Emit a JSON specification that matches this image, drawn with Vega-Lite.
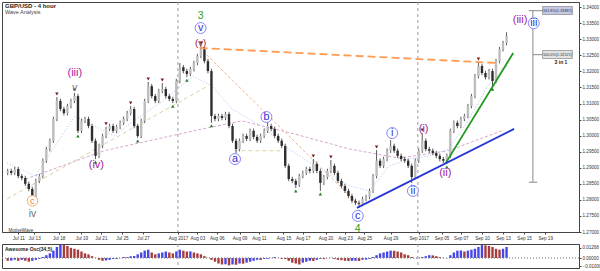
{
"$schema": "https://vega.github.io/schema/vega-lite/v6.json",
"padding": {"top": 1, "left": 1, "right": 0, "bottom": 0},
"background": "white",
"spacing": 2,
"resolve": {"scale": {"color": "independent", "size": "independent"}},
"config": {"view": {"stroke": "#444", "strokeWidth": 1}, "font": "Liberation Sans",
  "axis": {"grid": false, "title": null, "labelFontSize": 4.6, "tickSize": 2, "labelPadding": 1, "labelColor": "#333", "domainColor": "#444", "tickColor": "#444", "labelOverlap": false, "tickCount": 60}},
"datasets": {
"candles": [
{"b":-6,"o":1.2884,"h":1.2897,"l":1.2877,"c":1.2890},
{"b":-4,"o":1.2890,"h":1.2897,"l":1.2877,"c":1.2884},
{"b":-2,"o":1.2884,"h":1.2903,"l":1.2877,"c":1.2896},
{"b":0,"o":1.2896,"h":1.2903,"l":1.2867,"c":1.2874},
{"b":2,"o":1.2874,"h":1.2881,"l":1.2861,"c":1.2868},
{"b":4,"o":1.2868,"h":1.2875,"l":1.2843,"c":1.2850},
{"b":6,"o":1.2850,"h":1.2857,"l":1.2827,"c":1.2834},
{"b":8,"o":1.2834,"h":1.2841,"l":1.2803,"c":1.2809},
{"b":10,"o":1.2809,"h":1.2866,"l":1.2802,"c":1.2859},
{"b":12,"o":1.2859,"h":1.2881,"l":1.2852,"c":1.2874},
{"b":14,"o":1.2874,"h":1.2929,"l":1.2867,"c":1.2922},
{"b":16,"o":1.2922,"h":1.2965,"l":1.2915,"c":1.2958},
{"b":18,"o":1.2958,"h":1.2991,"l":1.2951,"c":1.2984},
{"b":20,"o":1.2984,"h":1.3059,"l":1.2977,"c":1.3052},
{"b":22,"o":1.3052,"h":1.3120,"l":1.3045,"c":1.3108},
{"b":24,"o":1.3108,"h":1.3115,"l":1.3076,"c":1.3083},
{"b":26,"o":1.3083,"h":1.3090,"l":1.3063,"c":1.3070},
{"b":28,"o":1.3070,"h":1.3099,"l":1.3063,"c":1.3092},
{"b":30,"o":1.3092,"h":1.3115,"l":1.3085,"c":1.3108},
{"b":32,"o":1.3108,"h":1.3133,"l":1.3101,"c":1.3123},
{"b":34,"o":1.3123,"h":1.3130,"l":1.3008,"c":1.3015},
{"b":36,"o":1.3015,"h":1.3053,"l":1.3008,"c":1.3046},
{"b":38,"o":1.3046,"h":1.3059,"l":1.3039,"c":1.3052},
{"b":40,"o":1.3052,"h":1.3059,"l":1.3023,"c":1.3030},
{"b":42,"o":1.3030,"h":1.3037,"l":1.2977,"c":1.2984},
{"b":44,"o":1.2984,"h":1.2991,"l":1.2927,"c":1.2937},
{"b":46,"o":1.2937,"h":1.2975,"l":1.2930,"c":1.2968},
{"b":48,"o":1.2968,"h":1.3006,"l":1.2961,"c":1.2999},
{"b":50,"o":1.2999,"h":1.3028,"l":1.2992,"c":1.3021},
{"b":52,"o":1.3021,"h":1.3037,"l":1.3014,"c":1.3030},
{"b":54,"o":1.3030,"h":1.3037,"l":1.3008,"c":1.3015},
{"b":56,"o":1.3015,"h":1.3034,"l":1.3008,"c":1.3027},
{"b":58,"o":1.3027,"h":1.3047,"l":1.3020,"c":1.3040},
{"b":60,"o":1.3040,"h":1.3059,"l":1.3033,"c":1.3052},
{"b":62,"o":1.3052,"h":1.3077,"l":1.3045,"c":1.3070},
{"b":64,"o":1.3070,"h":1.3092,"l":1.3063,"c":1.3083},
{"b":66,"o":1.3083,"h":1.3090,"l":1.3023,"c":1.3030},
{"b":68,"o":1.3030,"h":1.3037,"l":1.2993,"c":1.2999},
{"b":70,"o":1.2999,"h":1.3053,"l":1.2992,"c":1.3046},
{"b":72,"o":1.3046,"h":1.3115,"l":1.3039,"c":1.3108},
{"b":74,"o":1.3108,"h":1.3167,"l":1.3101,"c":1.3154},
{"b":76,"o":1.3154,"h":1.3161,"l":1.3116,"c":1.3123},
{"b":78,"o":1.3123,"h":1.3130,"l":1.3101,"c":1.3108},
{"b":80,"o":1.3108,"h":1.3146,"l":1.3101,"c":1.3139},
{"b":82,"o":1.3139,"h":1.3164,"l":1.3132,"c":1.3145},
{"b":84,"o":1.3145,"h":1.3152,"l":1.3116,"c":1.3123},
{"b":86,"o":1.3123,"h":1.3130,"l":1.3107,"c":1.3114},
{"b":88,"o":1.3114,"h":1.3121,"l":1.3101,"c":1.3108},
{"b":90,"o":1.3108,"h":1.3177,"l":1.3101,"c":1.3170},
{"b":92,"o":1.3170,"h":1.3226,"l":1.3163,"c":1.3213},
{"b":94,"o":1.3213,"h":1.3220,"l":1.3194,"c":1.3201},
{"b":96,"o":1.3201,"h":1.3208,"l":1.3182,"c":1.3192},
{"b":98,"o":1.3192,"h":1.3214,"l":1.3185,"c":1.3207},
{"b":100,"o":1.3207,"h":1.3233,"l":1.3200,"c":1.3226},
{"b":102,"o":1.3226,"h":1.3255,"l":1.3219,"c":1.3248},
{"b":104,"o":1.3248,"h":1.3279,"l":1.3241,"c":1.3269},
{"b":106,"o":1.3269,"h":1.3276,"l":1.3225,"c":1.3232},
{"b":108,"o":1.3232,"h":1.3239,"l":1.3194,"c":1.3201},
{"b":110,"o":1.3201,"h":1.3208,"l":1.3040,"c":1.3061},
{"b":112,"o":1.3061,"h":1.3068,"l":1.3045,"c":1.3052},
{"b":114,"o":1.3052,"h":1.3068,"l":1.3045,"c":1.3061},
{"b":116,"o":1.3061,"h":1.3068,"l":1.3048,"c":1.3055},
{"b":118,"o":1.3055,"h":1.3074,"l":1.3048,"c":1.3067},
{"b":120,"o":1.3067,"h":1.3074,"l":1.3023,"c":1.3030},
{"b":122,"o":1.3030,"h":1.3037,"l":1.2977,"c":1.2984},
{"b":124,"o":1.2984,"h":1.2991,"l":1.2946,"c":1.2958},
{"b":126,"o":1.2958,"h":1.2991,"l":1.2951,"c":1.2984},
{"b":128,"o":1.2984,"h":1.3006,"l":1.2977,"c":1.2999},
{"b":130,"o":1.2999,"h":1.3006,"l":1.2983,"c":1.2990},
{"b":132,"o":1.2990,"h":1.3022,"l":1.2983,"c":1.3015},
{"b":134,"o":1.3015,"h":1.3022,"l":1.2989,"c":1.2996},
{"b":136,"o":1.2996,"h":1.3003,"l":1.2977,"c":1.2984},
{"b":138,"o":1.2984,"h":1.3006,"l":1.2977,"c":1.2999},
{"b":140,"o":1.2999,"h":1.3022,"l":1.2992,"c":1.3015},
{"b":142,"o":1.3015,"h":1.3043,"l":1.3008,"c":1.3030},
{"b":144,"o":1.3030,"h":1.3037,"l":1.3014,"c":1.3021},
{"b":146,"o":1.3021,"h":1.3028,"l":1.2992,"c":1.2999},
{"b":148,"o":1.2999,"h":1.3006,"l":1.2977,"c":1.2984},
{"b":150,"o":1.2984,"h":1.2991,"l":1.2961,"c":1.2968},
{"b":152,"o":1.2968,"h":1.2975,"l":1.2899,"c":1.2906},
{"b":154,"o":1.2906,"h":1.2913,"l":1.2858,"c":1.2865},
{"b":156,"o":1.2865,"h":1.2872,"l":1.2852,"c":1.2859},
{"b":158,"o":1.2859,"h":1.2866,"l":1.2837,"c":1.2847},
{"b":160,"o":1.2847,"h":1.2881,"l":1.2840,"c":1.2874},
{"b":162,"o":1.2874,"h":1.2891,"l":1.2867,"c":1.2884},
{"b":164,"o":1.2884,"h":1.2903,"l":1.2877,"c":1.2896},
{"b":166,"o":1.2896,"h":1.2903,"l":1.2883,"c":1.2890},
{"b":168,"o":1.2890,"h":1.2927,"l":1.2883,"c":1.2912},
{"b":170,"o":1.2912,"h":1.2919,"l":1.2883,"c":1.2890},
{"b":172,"o":1.2890,"h":1.2897,"l":1.2828,"c":1.2853},
{"b":174,"o":1.2853,"h":1.2878,"l":1.2846,"c":1.2871},
{"b":176,"o":1.2871,"h":1.2897,"l":1.2864,"c":1.2890},
{"b":178,"o":1.2890,"h":1.2924,"l":1.2883,"c":1.2906},
{"b":180,"o":1.2906,"h":1.2913,"l":1.2877,"c":1.2884},
{"b":182,"o":1.2884,"h":1.2891,"l":1.2852,"c":1.2859},
{"b":184,"o":1.2859,"h":1.2866,"l":1.2836,"c":1.2843},
{"b":186,"o":1.2843,"h":1.2850,"l":1.2821,"c":1.2828},
{"b":188,"o":1.2828,"h":1.2835,"l":1.2805,"c":1.2812},
{"b":190,"o":1.2812,"h":1.2819,"l":1.2790,"c":1.2797},
{"b":192,"o":1.2797,"h":1.2804,"l":1.2784,"c":1.2791},
{"b":194,"o":1.2791,"h":1.2798,"l":1.2775,"c":1.2788},
{"b":196,"o":1.2788,"h":1.2810,"l":1.2781,"c":1.2803},
{"b":198,"o":1.2803,"h":1.2816,"l":1.2796,"c":1.2809},
{"b":200,"o":1.2809,"h":1.2835,"l":1.2802,"c":1.2828},
{"b":202,"o":1.2828,"h":1.2881,"l":1.2821,"c":1.2874},
{"b":204,"o":1.2874,"h":1.2955,"l":1.2867,"c":1.2922},
{"b":206,"o":1.2922,"h":1.2929,"l":1.2899,"c":1.2906},
{"b":208,"o":1.2906,"h":1.2934,"l":1.2899,"c":1.2927},
{"b":210,"o":1.2927,"h":1.2960,"l":1.2920,"c":1.2953},
{"b":212,"o":1.2953,"h":1.2986,"l":1.2946,"c":1.2968},
{"b":214,"o":1.2968,"h":1.2975,"l":1.2946,"c":1.2953},
{"b":216,"o":1.2953,"h":1.2960,"l":1.2930,"c":1.2937},
{"b":218,"o":1.2937,"h":1.2944,"l":1.2920,"c":1.2927},
{"b":220,"o":1.2927,"h":1.2934,"l":1.2915,"c":1.2922},
{"b":222,"o":1.2922,"h":1.2929,"l":1.2899,"c":1.2906},
{"b":224,"o":1.2906,"h":1.2913,"l":1.2853,"c":1.2871},
{"b":226,"o":1.2871,"h":1.2929,"l":1.2864,"c":1.2922},
{"b":228,"o":1.2922,"h":1.2960,"l":1.2915,"c":1.2953},
{"b":230,"o":1.2953,"h":1.3008,"l":1.2946,"c":1.2984},
{"b":232,"o":1.2984,"h":1.2991,"l":1.2951,"c":1.2958},
{"b":234,"o":1.2958,"h":1.2965,"l":1.2946,"c":1.2953},
{"b":236,"o":1.2953,"h":1.2960,"l":1.2939,"c":1.2946},
{"b":238,"o":1.2946,"h":1.2953,"l":1.2930,"c":1.2937},
{"b":240,"o":1.2937,"h":1.2944,"l":1.2920,"c":1.2927},
{"b":242,"o":1.2927,"h":1.2934,"l":1.2915,"c":1.2922},
{"b":244,"o":1.2922,"h":1.2944,"l":1.2912,"c":1.2937},
{"b":246,"o":1.2937,"h":1.3022,"l":1.2930,"c":1.3015},
{"b":248,"o":1.3015,"h":1.3047,"l":1.3008,"c":1.3040},
{"b":250,"o":1.3040,"h":1.3047,"l":1.3023,"c":1.3030},
{"b":252,"o":1.3030,"h":1.3059,"l":1.3023,"c":1.3052},
{"b":254,"o":1.3052,"h":1.3068,"l":1.3045,"c":1.3061},
{"b":256,"o":1.3061,"h":1.3099,"l":1.3054,"c":1.3092},
{"b":258,"o":1.3092,"h":1.3130,"l":1.3085,"c":1.3123},
{"b":260,"o":1.3123,"h":1.3192,"l":1.3116,"c":1.3185},
{"b":262,"o":1.3185,"h":1.3229,"l":1.3178,"c":1.3217},
{"b":264,"o":1.3217,"h":1.3224,"l":1.3188,"c":1.3195},
{"b":266,"o":1.3195,"h":1.3202,"l":1.3175,"c":1.3182},
{"b":268,"o":1.3182,"h":1.3208,"l":1.3175,"c":1.3201},
{"b":270,"o":1.3201,"h":1.3208,"l":1.3154,"c":1.3170},
{"b":272,"o":1.3170,"h":1.3239,"l":1.3163,"c":1.3232},
{"b":274,"o":1.3232,"h":1.3276,"l":1.3225,"c":1.3269},
{"b":276,"o":1.3269,"h":1.3295,"l":1.3262,"c":1.3288},
{"b":278,"o":1.3288,"h":1.3322,"l":1.3281,"c":1.3310}
],
"fractals": [
{"b":22,"p":1.3120,"t":"hi"},{"b":32,"p":1.3133,"t":"hi"},{"b":50,"p":1.3028,"t":"hi"},{"b":64,"p":1.3092,"t":"hi"},
{"b":74,"p":1.3167,"t":"hi"},{"b":82,"p":1.3164,"t":"hi"},{"b":104,"p":1.3279,"t":"hi"},{"b":142,"p":1.3043,"t":"hi"},
{"b":168,"p":1.2927,"t":"hi"},{"b":178,"p":1.2924,"t":"hi"},{"b":204,"p":1.2955,"t":"hi"},{"b":212,"p":1.2986,"t":"hi"},
{"b":230,"p":1.3008,"t":"hi"},{"b":262,"p":1.3229,"t":"hi"},
{"b":8,"p":1.2803,"t":"lo"},{"b":34,"p":1.3008,"t":"lo"},{"b":44,"p":1.2927,"t":"lo"},{"b":68,"p":1.2993,"t":"lo"},
{"b":88,"p":1.3101,"t":"lo"},{"b":96,"p":1.3182,"t":"lo"},{"b":110,"p":1.3040,"t":"lo"},{"b":124,"p":1.2946,"t":"lo"},
{"b":158,"p":1.2837,"t":"lo"},{"b":172,"p":1.2828,"t":"lo"},{"b":194,"p":1.2775,"t":"lo"},{"b":224,"p":1.2853,"t":"lo"},
{"b":244,"p":1.2912,"t":"lo"},{"b":270,"p":1.3154,"t":"lo"}
],
"lines": [
{"s":"tan","b1":-6.4,"p1":1.2803,"b2":107.7,"p2":1.3154},
{"s":"tan","b1":123,"p1":1.2953,"b2":150,"p2":1.2953},
{"s":"fade","b1":103.3,"p1":1.3273,"b2":194.5,"p2":1.2781},
{"s":"res","b1":103.3,"p1":1.3273,"b2":272.8,"p2":1.3226},
{"s":"grn","b1":243.1,"p1":1.2912,"b2":281.8,"p2":1.3257},
{"s":"blu","b1":192.8,"p1":1.2775,"b2":282.3,"p2":1.3021},
{"s":"meas","b1":293,"p1":1.3389,"b2":293,"p2":1.2855},
{"s":"meas","b1":290.7,"p1":1.3389,"b2":299,"p2":1.3389},
{"s":"meas","b1":293,"p1":1.3252,"b2":299,"p2":1.3252},
{"s":"meas","b1":290.7,"p1":1.2855,"b2":295.5,"p2":1.2855}
],
"ma": [
{"s":"slow","b":4.2,"p":1.2865},{"s":"slow","b":49,"p":1.2953},{"s":"slow","b":104.9,"p":1.3021},{"s":"slow","b":127.3,"p":1.3046},
{"s":"slow","b":155.3,"p":1.3008},{"s":"slow","b":188.9,"p":1.2958},{"s":"slow","b":216.9,"p":1.2930},{"s":"slow","b":244.8,"p":1.2953},
{"s":"slow","b":276.7,"p":1.3018},
{"s":"fast","b":-6.4,"p":1.2915},{"s":"fast","b":9.8,"p":1.2874},{"s":"fast","b":21,"p":1.2968},{"s":"fast","b":32.2,"p":1.3061},
{"s":"fast","b":43.4,"p":1.3030},{"s":"fast","b":54.6,"p":1.2999},{"s":"fast","b":65.8,"p":1.3046},{"s":"fast","b":82.5,"p":1.3108},
{"s":"fast","b":99.3,"p":1.3185},{"s":"fast","b":110.5,"p":1.3154},{"s":"fast","b":121.7,"p":1.3083},{"s":"fast","b":138.5,"p":1.3030},
{"s":"fast","b":155.3,"p":1.2953},{"s":"fast","b":172.1,"p":1.2896},{"s":"fast","b":188.9,"p":1.2843},{"s":"fast","b":200,"p":1.2828},
{"s":"fast","b":211.2,"p":1.2906},{"s":"fast","b":222.4,"p":1.2927},{"s":"fast","b":233.6,"p":1.2937},{"s":"fast","b":244.8,"p":1.2958},
{"s":"fast","b":256,"p":1.3046},{"s":"fast","b":267.2,"p":1.3154},{"s":"fast","b":278.4,"p":1.3217}
],
"seps": [{"b":90.9},{"b":227.5}],
"labels": [
{"b":8.1,"p":1.2756,"t":"iv","k":"gray"},
{"b":8.1,"p":1.2797,"t":"c","k":"orange"},
{"b":32.2,"p":1.3195,"t":"(iii)","k":"purple"},
{"b":32.2,"p":1.3148,"t":"v","k":"grays"},
{"b":44.5,"p":1.2909,"t":"(iv)","k":"purple"},
{"b":103.8,"p":1.3372,"t":"3","k":"green"},
{"b":103.8,"p":1.3335,"t":"v","k":"blue"},
{"b":103.8,"p":1.3288,"t":"(v)","k":"darkred"},
{"b":123.4,"p":1.2927,"t":"a","k":"blue"},
{"b":141.3,"p":1.3058,"t":"b","k":"blue"},
{"b":193.3,"p":1.2750,"t":"c","k":"blue"},
{"b":193.3,"p":1.2709,"t":"4","k":"green"},
{"b":212.9,"p":1.3008,"t":"i","k":"blue"},
{"b":224.7,"p":1.2828,"t":"ii","k":"blue"},
{"b":230.8,"p":1.3021,"t":"(i)","k":"purple"},
{"b":243.1,"p":1.2884,"t":"(ii)","k":"purple"},
{"b":285.7,"p":1.3360,"t":"(iii)","k":"purple"},
{"b":293.5,"p":1.3350,"t":"iii","k":"blue"}
],
"boxes": [
{"b1":298.5,"b2":315.5,"p1":1.3377,"p2":1.3402,"bm":307,"pm":1.3389,"t":"161.8%(1.33887)","k":"hi"},
{"b1":298.5,"b2":315.5,"p1":1.3240,"p2":1.3265,"bm":307,"pm":1.3252,"t":"100.0%(1.32521)","k":"lo"}
],
"notes": [
{"b":309,"p":1.3228,"t":"3 in 1","k":"bold"},
{"b":-5.5,"p":1.2704,"t":"MotiveWave","k":"small"}
],
"ao": [
{"b":-6,"v":-0.0035,"d":"d"},{"b":-4,"v":-0.0033,"d":"u"},{"b":-2,"v":-0.0023,"d":"u"},{"b":0,"v":-0.0035,"d":"d"},
{"b":2,"v":-0.0023,"d":"u"},{"b":4,"v":-0.0035,"d":"d"},{"b":6,"v":-0.0046,"d":"d"},{"b":8,"v":-0.0035,"d":"u"},
{"b":10,"v":-0.0023,"d":"u"},{"b":12,"v":-0.0012,"d":"u"},{"b":14,"v":0.0012,"d":"u"},{"b":16,"v":0.0035,"d":"u"},
{"b":18,"v":0.0058,"d":"u"},{"b":20,"v":0.0092,"d":"u"},{"b":22,"v":0.0138,"d":"u"},{"b":24,"v":0.0170,"d":"u"},
{"b":26,"v":0.0161,"d":"d"},{"b":28,"v":0.0150,"d":"d"},{"b":30,"v":0.0127,"d":"d"},{"b":32,"v":0.0115,"d":"d"},
{"b":34,"v":0.0104,"d":"d"},{"b":36,"v":0.0081,"d":"d"},{"b":38,"v":0.0058,"d":"d"},{"b":40,"v":0.0046,"d":"d"},
{"b":42,"v":0.0023,"d":"d"},{"b":44,"v":0.0002,"d":"d"},{"b":46,"v":-0.0023,"d":"d"},{"b":48,"v":-0.0035,"d":"d"},
{"b":50,"v":-0.0031,"d":"u"},{"b":52,"v":-0.0023,"d":"u"},{"b":54,"v":-0.0012,"d":"u"},{"b":56,"v":-0.0014,"d":"d"},
{"b":58,"v":-0.0002,"d":"u"},{"b":60,"v":0.0012,"d":"u"},{"b":62,"v":0.0010,"d":"d"},{"b":64,"v":0.0023,"d":"u"},
{"b":66,"v":0.0025,"d":"u"},{"b":68,"v":0.0046,"d":"u"},{"b":70,"v":0.0069,"d":"u"},{"b":72,"v":0.0092,"d":"u"},
{"b":74,"v":0.0104,"d":"u"},{"b":76,"v":0.0069,"d":"d"},{"b":78,"v":0.0046,"d":"d"},{"b":80,"v":0.0058,"d":"u"},
{"b":82,"v":0.0069,"d":"u"},{"b":84,"v":0.0081,"d":"u"},{"b":86,"v":0.0069,"d":"d"},{"b":88,"v":0.0058,"d":"d"},
{"b":90,"v":0.0081,"d":"u"},{"b":92,"v":0.0104,"d":"u"},{"b":94,"v":0.0092,"d":"d"},{"b":96,"v":0.0081,"d":"d"},
{"b":98,"v":0.0083,"d":"u"},{"b":100,"v":0.0069,"d":"d"},{"b":102,"v":0.0058,"d":"d"},{"b":104,"v":0.0046,"d":"d"},
{"b":106,"v":0.0023,"d":"d"},{"b":108,"v":0.0002,"d":"d"},{"b":110,"v":-0.0023,"d":"d"},{"b":112,"v":-0.0046,"d":"d"},
{"b":114,"v":-0.0069,"d":"d"},{"b":116,"v":-0.0081,"d":"d"},{"b":118,"v":-0.0079,"d":"u"},{"b":120,"v":-0.0092,"d":"d"},
{"b":122,"v":-0.0081,"d":"u"},{"b":124,"v":-0.0085,"d":"d"},{"b":126,"v":-0.0069,"d":"u"},{"b":128,"v":-0.0071,"d":"d"},
{"b":130,"v":-0.0058,"d":"u"},{"b":132,"v":-0.0046,"d":"u"},{"b":134,"v":-0.0035,"d":"u"},{"b":136,"v":-0.0023,"d":"u"},
{"b":138,"v":-0.0025,"d":"d"},{"b":140,"v":-0.0012,"d":"u"},{"b":142,"v":-0.0010,"d":"u"},{"b":144,"v":0.0002,"d":"u"},
{"b":146,"v":0.0012,"d":"u"},{"b":148,"v":0.0002,"d":"d"},{"b":150,"v":-0.0012,"d":"d"},{"b":152,"v":-0.0014,"d":"d"},
{"b":154,"v":-0.0035,"d":"d"},{"b":156,"v":-0.0058,"d":"d"},{"b":158,"v":-0.0069,"d":"d"},{"b":160,"v":-0.0081,"d":"d"},
{"b":162,"v":-0.0058,"d":"u"},{"b":164,"v":-0.0046,"d":"u"},{"b":166,"v":-0.0035,"d":"u"},{"b":168,"v":-0.0037,"d":"d"},
{"b":170,"v":-0.0023,"d":"u"},{"b":172,"v":-0.0012,"d":"u"},{"b":174,"v":-0.0014,"d":"d"},{"b":176,"v":-0.0002,"d":"u"},
{"b":178,"v":0.0002,"d":"u"},{"b":180,"v":-0.0012,"d":"d"},{"b":182,"v":-0.0023,"d":"d"},{"b":184,"v":-0.0027,"d":"d"},
{"b":186,"v":-0.0035,"d":"d"},{"b":188,"v":-0.0038,"d":"d"},{"b":190,"v":-0.0036,"d":"u"},{"b":192,"v":-0.0035,"d":"u"},
{"b":194,"v":-0.0037,"d":"d"},{"b":196,"v":-0.0023,"d":"u"},{"b":198,"v":-0.0021,"d":"u"},{"b":200,"v":-0.0012,"d":"u"},
{"b":202,"v":0.0012,"d":"u"},{"b":204,"v":0.0035,"d":"u"},{"b":206,"v":0.0058,"d":"u"},{"b":208,"v":0.0069,"d":"u"},
{"b":210,"v":0.0081,"d":"u"},{"b":212,"v":0.0092,"d":"u"},{"b":214,"v":0.0090,"d":"d"},{"b":216,"v":0.0081,"d":"d"},
{"b":218,"v":0.0069,"d":"d"},{"b":220,"v":0.0046,"d":"d"},{"b":222,"v":0.0035,"d":"d"},{"b":224,"v":0.0012,"d":"d"},
{"b":226,"v":-0.0002,"d":"d"},{"b":228,"v":0.0003,"d":"u"},{"b":230,"v":0.0012,"d":"u"},{"b":232,"v":0.0023,"d":"u"},
{"b":234,"v":0.0035,"d":"u"},{"b":236,"v":0.0033,"d":"d"},{"b":238,"v":0.0023,"d":"d"},{"b":240,"v":0.0012,"d":"d"},
{"b":242,"v":0.0002,"d":"d"},{"b":244,"v":-0.0003,"d":"d"},{"b":246,"v":0.0035,"d":"u"},{"b":248,"v":0.0069,"d":"u"},
{"b":250,"v":0.0092,"d":"u"},{"b":252,"v":0.0094,"d":"u"},{"b":254,"v":0.0081,"d":"d"},{"b":256,"v":0.0092,"d":"u"},
{"b":258,"v":0.0104,"d":"u"},{"b":260,"v":0.0115,"d":"u"},{"b":262,"v":0.0138,"d":"u"},{"b":264,"v":0.0161,"d":"u"},
{"b":266,"v":0.0158,"d":"d"},{"b":268,"v":0.0150,"d":"d"},{"b":270,"v":0.0138,"d":"d"},{"b":272,"v":0.0115,"d":"d"},
{"b":274,"v":0.0104,"d":"d"},{"b":276,"v":0.0115,"d":"u"},{"b":278,"v":0.0138,"d":"u"}
]
},
"vconcat": [
{
"width": 577, "height": 230,
"title": {"text": "GBP/USD - 4 hour", "subtitle": "Wave Analysis", "anchor": "start", "frame": "group", "offset": -14, "fontSize": 6, "fontWeight": "bold", "color": "#222", "subtitleFontSize": 5.5, "subtitleColor": "#444", "subtitlePadding": 1, "dx": 3},
"layer": [
{"data": {"name": "seps"}, "mark": {"type": "rule", "strokeDash": [3, 3], "color": "#9a9a9a", "strokeWidth": 1},
 "encoding": {"x": {"field": "b", "type": "quantitative", "scale": {"domain": [-6.4, 316.4], "nice": false, "zero": false},
   "axis": {"values": [0,9,23,36,47,59,71,91,102,113,126,137,151,162,175,186,197,212,228,241,252,264,276,288,300], "tickCount": 60,
     "labelExpr": "['Jul 11','Jul 13','Jul 18','Jul 19','Jul 21','Jul 25','Jul 27','Aug 2017','Aug 03','Aug 06','Aug 09','Aug 11','Aug 15','Aug 17','Aug 20','Aug 23','Aug 25','Aug 29','Sep 2017','Sep 05','Sep 07','Sep 10','Sep 13','Sep 15','Sep 19'][indexof([0,9,23,36,47,59,71,91,102,113,126,137,151,162,175,186,197,212,228,241,252,264,276,288,300], datum.value)]",
     "labelOverlap": false}}}},
{"data": {"name": "ma"}, "transform": [{"filter": "datum.s == 'slow'"}], "mark": {"type": "line", "color": "#d9a6cf", "strokeDash": [3, 2], "strokeWidth": 1},
 "encoding": {"x": {"field": "b", "type": "quantitative"}, "y": {"field": "p", "type": "quantitative", "scale": {"domain": [1.2700, 1.3416], "nice": false, "zero": false},
   "axis": {"orient": "right", "values": [1.27,1.275,1.28,1.285,1.29,1.295,1.3,1.305,1.31,1.315,1.32,1.325,1.33,1.335,1.34], "tickCount": 60, "format": ".5f", "labelOverlap": false}}}},
{"data": {"name": "ma"}, "transform": [{"filter": "datum.s == 'fast'"}], "mark": {"type": "line", "color": "#a9c2f2", "strokeDash": [1, 2], "strokeWidth": 1},
 "encoding": {"x": {"field": "b", "type": "quantitative"}, "y": {"field": "p", "type": "quantitative"}}},
{"data": {"name": "lines"}, "transform": [{"filter": "datum.s == 'tan'"}], "mark": {"type": "rule", "color": "#d9d2a2", "strokeDash": [4, 3], "strokeWidth": 1},
 "encoding": {"x": {"field": "b1", "type": "quantitative"}, "x2": {"field": "b2"}, "y": {"field": "p1", "type": "quantitative"}, "y2": {"field": "p2"}}},
{"data": {"name": "lines"}, "transform": [{"filter": "datum.s == 'fade'"}], "mark": {"type": "rule", "color": "#f3b596", "strokeDash": [3, 2], "strokeWidth": 1},
 "encoding": {"x": {"field": "b1", "type": "quantitative"}, "x2": {"field": "b2"}, "y": {"field": "p1", "type": "quantitative"}, "y2": {"field": "p2"}}},
{"data": {"name": "lines"}, "transform": [{"filter": "datum.s == 'meas'"}], "mark": {"type": "rule", "color": "#8a8a8a", "strokeWidth": 1},
 "encoding": {"x": {"field": "b1", "type": "quantitative"}, "x2": {"field": "b2"}, "y": {"field": "p1", "type": "quantitative"}, "y2": {"field": "p2"}}},
{"data": {"name": "candles"}, "mark": {"type": "rule", "color": "#5a5a5a", "strokeWidth": 1},
 "encoding": {"x": {"field": "b", "type": "quantitative"}, "y": {"field": "l", "type": "quantitative"}, "y2": {"field": "h"}}},
{"data": {"name": "candles"}, "mark": {"type": "bar", "width": 2.4},
 "encoding": {"x": {"field": "b", "type": "quantitative"}, "y": {"field": "o", "type": "quantitative"}, "y2": {"field": "c"},
   "color": {"condition": {"test": "datum.c > datum.o", "value": "#bdbdbd"}, "value": "#2e2e2e"}}},
{"data": {"name": "lines"}, "transform": [{"filter": "datum.s == 'res'"}], "mark": {"type": "rule", "color": "#ff9a55", "strokeDash": [8, 4], "strokeWidth": 1.8},
 "encoding": {"x": {"field": "b1", "type": "quantitative"}, "x2": {"field": "b2"}, "y": {"field": "p1", "type": "quantitative"}, "y2": {"field": "p2"}}},
{"data": {"name": "lines"}, "transform": [{"filter": "datum.s == 'grn'"}], "mark": {"type": "rule", "color": "#1f9a1f", "strokeWidth": 1.8},
 "encoding": {"x": {"field": "b1", "type": "quantitative"}, "x2": {"field": "b2"}, "y": {"field": "p1", "type": "quantitative"}, "y2": {"field": "p2"}}},
{"data": {"name": "lines"}, "transform": [{"filter": "datum.s == 'blu'"}], "mark": {"type": "rule", "color": "#2636d8", "strokeWidth": 1.8},
 "encoding": {"x": {"field": "b1", "type": "quantitative"}, "x2": {"field": "b2"}, "y": {"field": "p1", "type": "quantitative"}, "y2": {"field": "p2"}}},
{"data": {"name": "fractals"}, "transform": [{"filter": "datum.t == 'hi'"}], "mark": {"type": "point", "shape": "triangle-down", "filled": true, "color": "#7d1d1d", "size": 12, "yOffset": -3, "opacity": 1},
 "encoding": {"x": {"field": "b", "type": "quantitative"}, "y": {"field": "p", "type": "quantitative"}}},
{"data": {"name": "fractals"}, "transform": [{"filter": "datum.t == 'lo'"}], "mark": {"type": "point", "shape": "triangle-up", "filled": true, "color": "#2b7a2b", "size": 12, "yOffset": 3, "opacity": 1},
 "encoding": {"x": {"field": "b", "type": "quantitative"}, "y": {"field": "p", "type": "quantitative"}}},
{"data": {"name": "labels"}, "transform": [{"filter": "datum.k == 'blue'"}], "mark": {"type": "point", "shape": "circle", "filled": true, "fill": "white", "stroke": "#8585ff", "strokeWidth": 1, "size": 120, "opacity": 1},
 "encoding": {"x": {"field": "b", "type": "quantitative"}, "y": {"field": "p", "type": "quantitative"}}},
{"data": {"name": "labels"}, "transform": [{"filter": "datum.k == 'orange'"}], "mark": {"type": "point", "shape": "circle", "filled": true, "fill": "white", "stroke": "#f7a868", "strokeWidth": 1, "size": 110, "opacity": 1},
 "encoding": {"x": {"field": "b", "type": "quantitative"}, "y": {"field": "p", "type": "quantitative"}}},
{"data": {"name": "labels"}, "mark": {"type": "text", "align": "center", "baseline": "middle"},
 "encoding": {"x": {"field": "b", "type": "quantitative"}, "y": {"field": "p", "type": "quantitative"}, "text": {"field": "t"},
   "color": {"field": "k", "type": "nominal", "legend": null, "scale": {"domain": ["purple","blue","green","gray","grays","darkred","orange"], "range": ["#a0239c","#2b2bd8","#2e9a2e","#707070","#707070","#8b1538","#f07c28"]}},
   "size": {"field": "k", "type": "ordinal", "legend": null, "scale": {"domain": ["purple","blue","green","gray","grays","darkred","orange"], "range": [11, 9.5, 15, 13, 11, 11, 10]}}}},
{"data": {"name": "boxes"}, "transform": [{"filter": "datum.k == 'hi'"}], "mark": {"type": "rect", "stroke": "#777", "strokeWidth": 0.6, "fill": "#c5c9e6"},
 "encoding": {"x": {"field": "b1", "type": "quantitative"}, "x2": {"field": "b2"}, "y": {"field": "p1", "type": "quantitative"}, "y2": {"field": "p2"}}},
{"data": {"name": "boxes"}, "transform": [{"filter": "datum.k == 'lo'"}], "mark": {"type": "rect", "stroke": "#777", "strokeWidth": 0.6, "fill": "#e2e2e2"},
 "encoding": {"x": {"field": "b1", "type": "quantitative"}, "x2": {"field": "b2"}, "y": {"field": "p1", "type": "quantitative"}, "y2": {"field": "p2"}}},
{"data": {"name": "boxes"}, "mark": {"type": "text", "fontSize": 3.8, "color": "#333", "align": "center", "baseline": "middle"},
 "encoding": {"x": {"field": "bm", "type": "quantitative"}, "y": {"field": "pm", "type": "quantitative"}, "text": {"field": "t"}}},
{"data": {"name": "notes"}, "transform": [{"filter": "datum.k == 'bold'"}], "mark": {"type": "text", "fontSize": 5, "fontWeight": "bold", "color": "#222", "align": "center", "baseline": "middle"},
 "encoding": {"x": {"field": "b", "type": "quantitative"}, "y": {"field": "p", "type": "quantitative"}, "text": {"field": "t"}}},
{"data": {"name": "notes"}, "transform": [{"filter": "datum.k == 'small'"}], "mark": {"type": "text", "fontSize": 4.5, "color": "#333", "align": "left", "baseline": "middle"},
 "encoding": {"x": {"field": "b", "type": "quantitative"}, "y": {"field": "p", "type": "quantitative"}, "text": {"field": "t"}}}
]
},
{
"width": 577, "height": 24,
"title": {"text": "Awesome Osc(34,5)", "anchor": "start", "frame": "group", "offset": -8, "fontSize": 5, "fontWeight": "bold", "color": "#222", "dx": 3},
"layer": [
{"data": {"name": "seps"}, "mark": {"type": "rule", "strokeDash": [3, 3], "color": "#9a9a9a", "strokeWidth": 1},
 "encoding": {"x": {"field": "b", "type": "quantitative", "scale": {"domain": [-6.4, 316.4], "nice": false, "zero": false}, "axis": null}}},
{"data": {"name": "ao"}, "mark": {"type": "bar", "width": 2.4},
 "encoding": {"x": {"field": "b", "type": "quantitative", "axis": null},
   "y": {"field": "v", "type": "quantitative", "scale": {"domain": [-0.0125, 0.0175], "nice": false, "zero": false},
     "axis": {"orient": "right", "values": [-0.01, 0, 0.01268], "tickCount": 20, "format": ".5f", "labelFontSize": 4.5, "labelOverlap": false}},
   "y2": {"datum": 0},
   "color": {"field": "d", "type": "nominal", "legend": null, "scale": {"domain": ["u","d"], "range": ["#4747e8","#a83c3c"]}}}},
{"data": {"name": "seps"}, "mark": {"type": "rule", "strokeDash": [1, 2], "color": "#888", "strokeWidth": 0.8},
 "encoding": {"y": {"datum": 0, "type": "quantitative"}}}
]
}
]
}
